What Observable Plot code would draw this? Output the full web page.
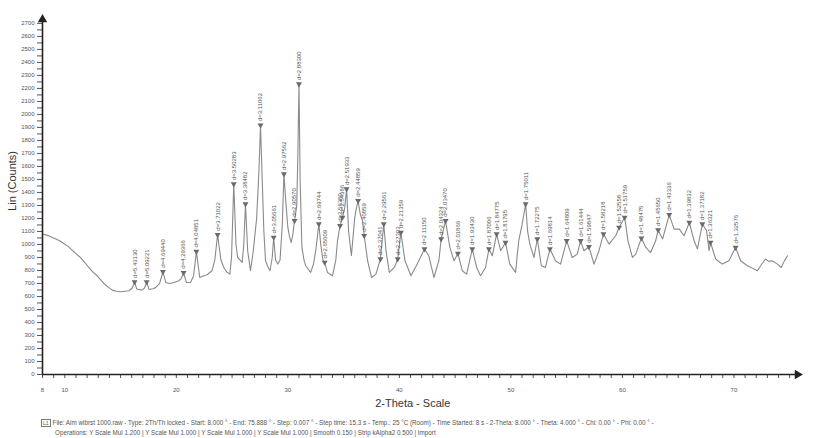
<!DOCTYPE html>
<html><head><meta charset="utf-8">
<script src="https://cdn.jsdelivr.net/npm/d3@7"></script>
<script src="https://cdn.jsdelivr.net/npm/@observablehq/plot@0.6"></script>
<style>
body{margin:0;background:#fff;font-family:"Liberation Sans",Arial,sans-serif;}
#footer{font-size:6.3px;color:#555;line-height:10px;padding-left:41px;margin-top:6px;white-space:nowrap}
#footer .l2{padding-left:14px}
#footer .box{display:inline-block;border:1px solid #777;font-size:5px;line-height:6px;padding:0 1px;margin-right:2px;vertical-align:middle}
</style></head><body>
<div id="chart"></div>
<div id="footer"><div><span class="box">L1</span>File: Alm wibrst 1000.raw - Type: 2Th/Th locked - Start: 8.000 ° - End: 75.888 ° - Step: 0.007 ° - Step time: 15.3 s - Temp.: 25 °C (Room) - Time Started: 8 s - 2-Theta: 8.000 ° - Theta: 4.000 ° - Chi: 0.00 ° - Phi: 0.00 ° -</div><div class="l2">Operations: Y Scale Mul 1.200 | Y Scale Mul 1.000 | Y Scale Mul 1.000 | Y Scale Mul 1.000 | Smooth 0.150 | Strip kAlpha2 0.500 | Import</div></div>
<script>
// 2-Theta profile (degrees) and Lin (Counts)
const twoTheta = [8.0,8.5,9.0,9.5,9.9,10.3,10.65,11.0,11.4,11.8,12.15,12.5,12.9,13.2,13.5,13.9,14.25,14.6,15.0,15.4,15.74,16.05,16.26,16.45,16.9,17.15,17.34,17.55,17.9,18.15,18.5,18.8,19.05,19.4,19.8,20.23,20.45,20.65,20.9,21.27,21.55,21.8,22.1,22.4,22.76,23.2,23.45,23.7,24.0,24.26,24.5,24.8,24.95,25.15,25.35,25.5,25.9,26.05,26.2,26.4,26.65,26.9,27.2,27.4,27.55,27.7,27.85,28.0,28.2,28.4,28.6,28.73,28.9,29.1,29.3,29.5,29.65,29.8,30.0,30.15,30.3,30.45,30.6,30.8,30.9,31.0,31.1,31.26,31.45,31.6,32.05,32.3,32.5,32.78,32.95,33.15,33.3,33.55,34.0,34.3,34.45,34.68,34.9,35.1,35.27,35.45,35.7,36.0,36.15,36.3,36.5,36.7,36.85,37.15,37.5,37.9,38.3,38.6,38.8,39.1,39.55,39.85,40.14,40.5,41.04,41.6,42.25,42.64,43.1,43.54,43.75,44.14,44.53,44.9,45.25,45.64,46.03,46.54,46.93,47.28,47.73,48.03,48.33,48.72,49.08,49.52,49.9,50.42,50.7,51.0,51.32,51.5,51.7,52.07,52.37,52.73,53.1,53.5,54.0,54.45,55.0,55.5,55.95,56.25,56.55,57.0,57.45,57.9,58.3,58.8,59.4,59.7,60.2,60.5,60.9,61.2,61.7,62.1,62.53,62.98,63.2,63.6,64.2,64.64,65.1,65.53,66.0,66.43,66.73,67.17,67.55,67.77,67.9,68.36,68.96,69.55,70.15,70.6,71.2,71.6,72.1,72.5,72.84,73.1,73.43,73.9,74.24,74.5,74.8];
const counts = [1080,1068,1049,1030,1008,985,957,930,900,860,823,790,759,730,700,672,649,640,636,640,644,665,712,657,649,665,712,654,660,668,700,790,708,700,708,721,740,783,708,708,760,946,746,757,767,798,880,1075,880,823,790,772,900,1465,1000,900,862,1000,1311,950,798,950,1200,1550,1918,1500,1100,875,830,798,900,1054,880,849,880,1150,1542,1350,1131,1060,1015,1080,1182,1300,1700,2234,1500,977,880,836,785,850,952,1157,1000,880,862,785,759,880,1028,1144,1208,1280,1426,1100,913,1208,1280,1336,1230,1182,1067,875,746,772,888,1157,952,785,823,888,1093,875,759,849,965,913,746,875,1042,1182,977,875,931,798,772,965,823,759,823,965,913,1080,952,1015,849,785,1028,1150,1311,1100,1003,900,1042,836,823,965,875,849,1028,900,926,1028,952,982,849,952,1080,1003,1067,1131,1208,1028,900,926,1049,977,938,1028,1111,1042,1228,1118,1118,1067,1169,1028,965,1157,1105,952,1015,888,849,875,977,875,836,820,798,850,888,870,875,849,823,870,913];

// labelled peaks
const peakTheta = [16.26,17.34,18.8,20.65,21.8,23.7,25.15,26.2,27.55,28.73,29.65,30.6,31.0,32.78,33.3,34.68,34.9,35.27,36.3,36.85,38.3,38.6,39.85,40.14,42.25,43.75,44.14,45.25,46.54,48.03,48.72,49.52,51.32,52.37,53.5,55.0,56.25,57.0,58.3,59.7,60.2,61.7,63.2,64.2,66.0,67.17,67.9,70.15];
const peakCounts = [712,712,790,783,946,1075,1465,1311,1918,1054,1542,1182,2234,1157,862,1144,1208,1426,1336,1067,888,1157,888,1093,965,1042,1182,931,965,965,1080,1015,1311,1042,965,1028,1028,982,1080,1131,1208,1049,1111,1228,1169,1157,1015,977];
const peakLabels = ["d=5.43130","d=5.09221","d=4.69440","d=4.29366","d=4.04851","d=3.71022","d=3.50283","d=3.38482","d=3.11062","d=3.05661","d=2.97562","d=2.90570","d=2.88300","d=2.69744","d=2.65609","d=2.56380","d=2.54386","d=2.51933","d=2.44859","d=2.40859","d=2.37041","d=2.29561","d=2.27303","d=2.21359","d=2.11150","d=2.04324","d=2.03470","d=2.01866","d=1.93430","d=1.87006","d=1.84775","d=1.81795","d=1.75011","d=1.72275","d=1.69814","d=1.64809","d=1.61444","d=1.59847","d=1.58218","d=1.52558","d=1.51759","d=1.48475","d=1.45650","d=1.43336","d=1.39832","d=1.37182","d=1.36321","d=1.32576"];

// axis ticks
const xTicks = d3.range(8, 76, 1);
const xTickLabels = [8,10,20,30,40,50,60,70];
const yTicks = d3.range(0, 2701, 50);
const yTickStep = 100;
const xMin = 8, xMax = 75.7, yMax = 2730;

const profile = twoTheta.map((t,i)=>({t, c: counts[i]}));
const peaks = peakTheta.map((t,i)=>({t, c: peakCounts[i], label: peakLabels[i]}));

const axisColor = "#222";
const lineColor = "#8a8a8a";

const chart = Plot.plot({
  width: 824,
  height: 412,
  marginLeft: 42,
  marginRight: 27,
  marginTop: 19,
  marginBottom: 38,
  style: {fontFamily: "'Liberation Sans', Arial, sans-serif", fontSize: "6px", color: "#555", background: "#fff"},
  x: {domain: [xMin, xMax], ticks: xTicks, tickFormat: d => xTickLabels.includes(d) ? String(d) : "", tickSize: 4, tickPadding: 9, label: null},
  y: {domain: [0, yMax], ticks: yTicks, tickFormat: d => d % yTickStep === 0 ? String(d) : "", tickSize: 5, tickPadding: 3, label: null},
  marks: [
    Plot.line(profile, {x: "t", y: "c", stroke: lineColor, strokeWidth: 1.1}),
    Plot.dot(peaks, {x: "t", y: "c", symbol: "triangle", rotate: 180, r: 2.2, fill: "#6a6a6a", stroke: null}),
    Plot.text(peaks, {x: "t", y: "c", text: "label", rotate: -90, textAnchor: "start", dy: -4, fontSize: 6, fill: "#555"}),
    Plot.text(["2-Theta - Scale"], {x: 41.2, frameAnchor: "bottom", dy: 32, fontSize: 11, fill: "#333"}),
    Plot.text(["Lin (Counts)"], {y: 1258, frameAnchor: "left", dx: -30, rotate: -90, fontSize: 11, fill: "#333"}),
    Plot.ruleY([0], {stroke: axisColor, strokeWidth: 1.6}),
    Plot.ruleX([xMin], {stroke: axisColor, strokeWidth: 1.6}),
    Plot.dot([{x: xMax, y: 0}], {x: "x", y: "y", symbol: "triangle", rotate: 90, r: 3.5, fill: axisColor}),
    Plot.dot([{x: xMin, y: yMax}], {x: "x", y: "y", symbol: "triangle", r: 3.5, fill: axisColor})
  ]
});
document.getElementById("chart").appendChild(chart);
</script>
</body></html>
